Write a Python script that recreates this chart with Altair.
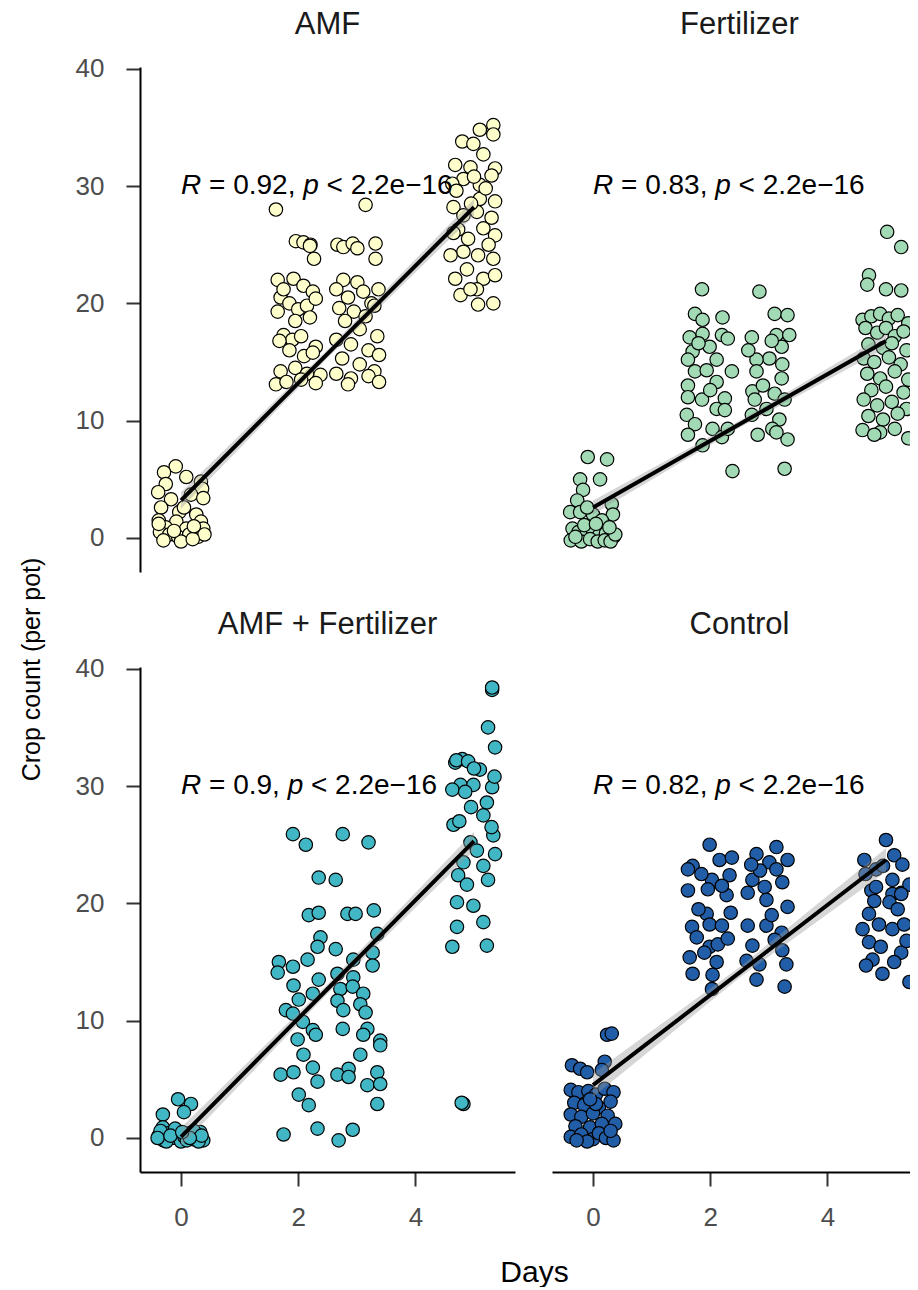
import altair as alt
import pandas as pd

FONT = "Liberation Sans"

# ---------------- data ----------------
panels = ["AMF", "Fertilizer", "AMF + Fertilizer", "Control"]
fills = ["#FFFFCC", "#A1DAB4", "#41B6C4", "#225EA8"]
r_values = ["0.92", "0.83", "0.9", "0.82"]
p_label = "< 2.2e\u221216"

# regression line (start at day 0, middle at 2.5, end at day 5) and ribbon half width
fit_x = [0, 2.5, 5]
fit_y = [[3.2, 15.7, 28.2], [2.6, 9.7, 16.8], [0.1, 12.7, 25.3], [4.5, 14.1, 23.7]]
band_half = [[0.7, 0.35, 0.7], [0.6, 0.3, 0.6], [0.8, 0.4, 0.8], [1.0, 0.45, 1.0]]

# jittered points (x = days with jitter, y = count)
amf_day0 = [(-0.09, 6.1), (-0.29, 5.6), (0.09, 5.2), (-0.26, 4.6), (0.34, 4.8), (0.36, 4.2), (-0.39, 3.9),
            (0.17, 3.7), (-0.17, 3.3), (0.38, 3.4), (-0.34, 2.6), (-0.03, 2.2), (0.26, 2.0), (-0.38, 1.5),
            (-0.08, 1.4), (0.34, 1.4), (-0.26, 0.9), (0.09, 0.8), (0.38, 0.8), (-0.36, 0.5), (-0.2, 0.3),
            (-0.05, 0.1), (0.14, 0.3), (0.29, 0.1), (0.4, 0.3), (-0.3, -0.2), (0.0, -0.3), (0.2, -0.1),
            (-0.12, 0.6), (0.22, 1.0), (-0.38, 1.2), (0.05, 2.6)]
amf_day2 = [(1.62, 28.0), (1.96, 25.3), (2.09, 25.2), (2.21, 25.0), (2.27, 23.8), (1.65, 22.0), (1.92, 22.1),
            (2.09, 21.5), (2.25, 21.0), (1.7, 20.5), (1.85, 20.0), (2.0, 19.5), (2.15, 19.8), (2.3, 20.4),
            (1.65, 19.3), (1.95, 18.5), (2.2, 18.8), (1.75, 17.3), (1.9, 16.9), (2.05, 17.2), (2.3, 16.3),
            (1.68, 16.8), (1.85, 16.0), (2.1, 15.5), (2.25, 15.8), (1.7, 14.2), (1.95, 14.5), (2.15, 14.0),
            (2.38, 13.9), (1.62, 13.1), (1.8, 13.3), (2.05, 13.5), (2.3, 13.2), (2.2, 24.9), (1.75, 21.2)]
amf_day3 = [(3.15, 28.4), (2.67, 25.0), (2.77, 24.8), (2.93, 25.1), (3.01, 24.7), (3.32, 25.1), (3.32, 23.8),
            (2.77, 22.0), (3.01, 21.8), (3.11, 21.0), (3.37, 21.2), (2.65, 21.2), (2.85, 20.5), (3.25, 20.0),
            (2.7, 19.6), (2.95, 19.3), (3.15, 18.9), (3.3, 19.8), (2.8, 18.5), (3.05, 17.8), (3.35, 17.2),
            (2.65, 16.9), (2.9, 16.5), (3.2, 16.0), (3.38, 15.6), (2.75, 15.3), (3.05, 14.8), (3.3, 14.2),
            (2.65, 14.0), (2.9, 13.6), (3.2, 13.8), (3.38, 13.3), (2.85, 13.1)]
amf_day5 = [(5.33, 35.2), (5.1, 34.8), (4.8, 33.8), (4.99, 33.6), (5.33, 34.4), (5.16, 32.7), (4.68, 31.8),
            (4.94, 31.6), (5.36, 31.5), (4.82, 30.6), (5.1, 30.1), (4.63, 30.2), (5.36, 28.7), (5.1, 28.9),
            (4.65, 28.2), (4.82, 27.5), (5.05, 27.8), (5.16, 26.4), (4.73, 26.3), (5.36, 25.8), (4.82, 24.4),
            (5.07, 24.1), (5.33, 23.8), (4.6, 24.1), (4.88, 22.9), (5.16, 22.1), (4.68, 22.1), (5.36, 22.4),
            (5.05, 21.2), (4.77, 20.7), (5.07, 19.9), (5.33, 20.0), (4.94, 21.2), (4.7, 29.6), (5.2, 29.8),
            (4.9, 25.5), (5.25, 25.0), (4.65, 26.0), (5.3, 27.3), (4.95, 28.5), (5.0, 30.8), (5.3, 30.9)]

fert_day0 = [(-0.09, 6.9), (0.24, 6.7), (-0.22, 5.0), (0.12, 5.0), (-0.17, 4.1), (-0.27, 3.2), (-0.39, 2.2),
             (-0.22, 2.2), (0.32, 2.9), (0.34, 2.0), (0.0, 2.0), (-0.1, 2.6), (0.15, 1.5), (-0.35, 0.8),
             (-0.25, 0.5), (-0.12, 0.3), (0.0, 0.6), (0.1, 0.2), (0.22, 0.4), (0.35, 0.1), (-0.38, -0.2),
             (-0.2, -0.3), (-0.05, -0.1), (0.08, -0.3), (0.2, -0.2), (0.3, -0.3), (0.38, 0.3), (-0.3, 0.1),
             (0.28, 0.9), (-0.15, 1.1), (0.05, 1.2)]
fert_day2 = [(1.86, 21.2), (1.74, 19.1), (1.87, 18.6), (2.21, 18.8), (1.65, 17.1), (1.87, 17.4), (2.2, 17.3),
             (1.7, 15.9), (1.99, 16.3), (2.11, 15.2), (1.62, 15.2), (1.74, 14.2), (2.37, 14.2), (1.94, 14.3),
             (2.11, 13.3), (1.62, 13.0), (1.62, 12.0), (1.86, 11.8), (2.25, 11.9), (2.11, 11.0), (2.25, 10.9),
             (1.6, 10.5), (1.74, 9.7), (2.04, 9.3), (1.62, 8.8), (1.87, 7.9), (2.2, 8.6), (2.3, 9.3),
             (2.38, 5.7), (2.0, 12.6), (1.8, 16.6), (2.3, 17.0)]
fert_day3 = [(2.84, 21.0), (3.1, 19.1), (3.32, 19.0), (2.71, 17.1), (3.13, 17.3), (3.35, 17.3), (3.22, 16.3),
             (3.01, 15.3), (2.79, 15.2), (3.23, 14.8), (2.79, 14.2), (3.22, 13.6), (2.72, 12.5), (3.1, 12.3),
             (3.27, 11.8), (2.76, 11.8), (2.96, 11.0), (3.18, 10.1), (2.71, 10.5), (3.06, 9.3), (2.81, 8.8),
             (3.32, 8.4), (3.13, 9.0), (3.27, 5.9), (2.9, 13.0), (3.05, 16.8), (2.65, 16.0)]
fert_day5 = [(5.02, 26.1), (5.26, 24.8), (4.71, 22.4), (4.68, 21.6), (5.0, 21.2), (5.26, 21.1), (4.6, 18.6),
             (4.75, 18.9), (4.9, 19.1), (5.05, 18.7), (5.2, 19.0), (5.38, 18.3), (4.65, 17.9), (4.85, 17.5),
             (5.0, 17.9), (5.15, 17.2), (5.3, 17.6), (4.7, 16.5), (4.95, 16.2), (5.1, 16.6), (5.35, 16.0),
             (4.62, 15.3), (4.8, 15.0), (5.05, 15.4), (5.25, 14.8), (4.68, 14.0), (4.9, 13.6), (5.15, 14.2),
             (5.38, 13.5), (4.75, 12.6), (5.0, 12.9), (5.3, 12.4), (4.62, 11.8), (4.85, 11.3), (5.1, 11.6),
             (5.35, 11.0), (4.7, 10.4), (4.95, 10.1), (5.2, 10.6), (4.6, 9.2), (4.9, 9.0), (5.15, 9.3),
             (5.38, 8.5), (4.8, 8.8)]

af_day0 = [(-0.05, 3.3), (0.17, 2.9), (0.05, 2.2), (-0.31, 2.0), (-0.31, 0.9), (-0.38, 0.2), (-0.3, -0.2),
           (-0.22, 0.4), (-0.15, 0.0), (-0.08, 0.3), (0.0, -0.3), (0.06, 0.1), (0.12, 0.4), (0.2, -0.1),
           (0.27, 0.2), (0.33, 0.5), (0.38, -0.2), (-0.35, 0.6), (-0.1, 0.8), (0.22, 0.6), (0.3, -0.3),
           (-0.25, -0.3), (0.1, -0.2), (-0.4, 0.0), (0.35, 0.2), (0.15, 0.0), (-0.18, 0.2), (0.02, 0.5)]
af_day2 = [(1.91, 25.9), (2.13, 25.0), (2.35, 22.2), (2.18, 19.0), (2.35, 19.2), (2.38, 17.1), (2.33, 16.3),
           (2.16, 15.2), (1.67, 15.0), (1.91, 14.6), (1.65, 14.1), (2.35, 13.5), (1.92, 13.0), (2.25, 12.3),
           (2.01, 11.8), (1.79, 10.9), (1.91, 10.6), (2.08, 9.9), (2.25, 9.2), (1.99, 8.4), (2.3, 8.8),
           (2.09, 7.1), (2.25, 6.0), (1.7, 5.4), (1.92, 5.6), (2.33, 4.8), (2.01, 3.7), (2.18, 2.8),
           (1.75, 0.3), (2.33, 0.8)]
af_day3 = [(2.76, 25.9), (3.2, 25.2), (2.64, 22.0), (2.84, 19.1), (2.98, 19.1), (3.29, 19.4), (3.35, 17.4),
           (2.64, 16.1), (3.27, 15.8), (3.27, 14.7), (2.94, 15.2), (2.67, 14.0), (2.94, 13.7), (2.72, 12.7),
           (2.93, 12.9), (3.11, 12.3), (2.67, 11.7), (3.06, 11.4), (2.77, 10.9), (3.15, 10.7), (2.76, 9.3),
           (3.18, 9.3), (3.11, 8.8), (3.4, 8.3), (3.4, 7.9), (3.06, 7.1), (2.86, 5.9), (2.67, 5.4),
           (2.86, 5.2), (3.18, 4.5), (3.35, 5.6), (3.4, 4.6), (3.35, 2.9), (2.93, 0.7), (2.69, -0.2)]
af_day5 = [(5.31, 38.2), (5.31, 38.4), (5.24, 35.0), (5.36, 33.3), (4.68, 32.0), (4.8, 32.3), (5.1, 31.4),
           (4.77, 30.1), (4.99, 30.1), (5.31, 29.9), (4.63, 29.7), (5.22, 28.6), (5.16, 27.5), (4.65, 26.7),
           (5.33, 25.8), (4.94, 25.2), (5.36, 24.2), (4.82, 23.5), (5.16, 23.2), (4.73, 22.4), (5.24, 22.0),
           (4.88, 21.6), (4.71, 20.1), (4.99, 19.8), (4.71, 18.0), (5.16, 18.4), (4.63, 16.3), (5.22, 16.4),
           (4.82, 2.9), (4.79, 3.0), (4.7, 32.2), (4.9, 32.1), (5.0, 31.5), (4.85, 29.5), (5.3, 26.5),
           (4.75, 27.0), (5.05, 24.5), (5.35, 30.8), (4.95, 28.2)]

ctl_day0 = [(0.24, 8.8), (0.32, 8.9), (-0.36, 6.2), (-0.22, 5.9), (0.2, 6.5), (-0.1, 5.6), (0.15, 5.8),
            (-0.38, 4.1), (-0.25, 3.9), (-0.08, 4.0), (0.05, 3.7), (0.2, 4.2), (0.35, 3.9), (-0.32, 3.0),
            (-0.15, 2.8), (0.1, 2.6), (0.3, 3.1), (-0.38, 2.0), (-0.2, 1.8), (0.0, 2.1), (0.25, 1.9),
            (0.38, 1.2), (-0.3, 1.0), (-0.05, 0.9), (0.15, 1.2), (-0.38, 0.1), (-0.2, 0.3), (0.0, -0.1),
            (0.1, 0.4), (0.22, 0.0), (0.35, -0.2), (-0.1, -0.3), (0.3, 0.6), (-0.28, -0.2), (0.05, 2.9),
            (-0.05, 3.3)]
ctl_day2 = [(1.99, 25.0), (2.16, 23.7), (2.37, 23.9), (1.7, 23.2), (1.62, 22.9), (2.03, 22.0), (2.33, 22.4),
            (1.62, 21.1), (1.96, 21.2), (2.28, 20.7), (1.94, 19.1), (1.69, 18.0), (1.99, 18.2), (2.2, 18.1),
            (1.77, 17.1), (1.99, 16.3), (2.13, 16.5), (1.65, 15.4), (2.11, 15.0), (1.7, 14.0), (2.04, 13.9),
            (2.03, 12.7), (1.85, 22.5), (2.2, 21.5), (1.8, 19.5), (2.35, 19.2), (1.9, 15.8), (2.3, 17.0)]
ctl_day3 = [(2.79, 24.2), (3.13, 24.8), (3.32, 23.7), (3.01, 23.5), (3.13, 22.9), (2.72, 22.0), (2.93, 21.4),
            (3.23, 21.8), (2.64, 20.9), (2.96, 20.3), (3.32, 19.7), (2.64, 18.1), (2.96, 18.1), (3.22, 17.5),
            (2.72, 16.4), (3.23, 16.0), (2.62, 15.1), (2.84, 14.8), (3.3, 14.8), (2.79, 13.5), (3.27, 12.9),
            (3.05, 19.0), (2.85, 22.8), (3.1, 16.9), (2.7, 23.3)]
ctl_day5 = [(5.0, 25.4), (4.63, 23.7), (5.14, 24.1), (5.28, 23.3), (4.83, 22.9), (5.11, 22.0), (4.75, 21.1),
            (5.26, 20.9), (5.4, 21.6), (4.83, 21.4), (5.11, 20.8), (5.26, 20.8), (5.06, 20.1), (4.71, 19.1),
            (4.88, 18.2), (4.6, 17.8), (5.11, 17.8), (5.31, 18.2), (4.71, 16.7), (4.91, 16.3), (5.26, 15.8),
            (4.77, 15.2), (5.14, 15.0), (4.66, 14.7), (4.94, 14.0), (5.4, 13.3), (4.65, 22.5), (4.95, 23.2),
            (5.2, 19.5), (4.8, 20.2), (5.35, 16.8)]

points_by_panel = [
    amf_day0 + amf_day2 + amf_day3 + amf_day5,
    fert_day0 + fert_day2 + fert_day3 + fert_day5,
    af_day0 + af_day2 + af_day3 + af_day5,
    ctl_day0 + ctl_day2 + ctl_day3 + ctl_day5,
]

y_ticks = [0, 10, 20, 30, 40]
x_ticks = [0, 2, 4]

# ---------------- layout / style ----------------
PX_PER_DAY = 375 / 6.4
LEFT_W = 375
RIGHT_W = 358
X_MIN = -0.7
PANEL_H = 505
Y_DOMAIN = [-2.9, 40.15]
ANN_FS = 28

ARIAL = {"R": 0.722, " ": 0.278, "=": 0.584, ".": 0.278, ",": 0.278, "p": 0.556, "<": 0.584,
         "e": 0.556, "\u2212": 0.584}
for d in "0123456789":
    ARIAL[d] = 0.556


def tw(s):
    return sum(ARIAL.get(c, 0.556) for c in s) * ANN_FS


def axis_common(label_pad):
    return dict(domainColor="black", domainWidth=2, tickColor="#333333", tickWidth=2, tickSize=14,
                labelFont=FONT, labelFontSize=26, labelColor="#4D4D4D", labelPadding=label_pad, grid=False,
                titleFont=FONT, titleFontWeight="normal", titleColor="black")


def make_panel(i, left, bottom):
    width = LEFT_W if left else RIGHT_W
    xmax = X_MIN + width / PX_PER_DAY
    xs = alt.Scale(domain=[X_MIN, xmax], nice=False, zero=False)
    ys = alt.Scale(domain=Y_DOMAIN, nice=False, zero=False)

    if bottom:
        if left:
            xaxis = alt.Axis(values=x_ticks, titleFontSize=30, titlePadding=27, titleX=394, **axis_common(18))
            xtitle = "Days"
        else:
            xaxis = alt.Axis(values=x_ticks, **axis_common(18))
            xtitle = None
    else:
        xaxis = None
        xtitle = None
    if left:
        if not bottom:
            yaxis = alt.Axis(values=y_ticks, titleFontSize=25, titlePadding=31, titleY=602, **axis_common(22))
            ytitle = "Crop count (per pot)"
        else:
            yaxis = alt.Axis(values=y_ticks, **axis_common(22))
            ytitle = None
    else:
        yaxis = None
        ytitle = None

    def X(field):
        return alt.X(field, type="quantitative", scale=xs, axis=xaxis, title=xtitle)

    def Y(field):
        return alt.Y(field, type="quantitative", scale=ys, axis=yaxis, title=ytitle)

    pts = points_by_panel[i]
    df_pts = pd.DataFrame({"x": [p[0] for p in pts], "y": [p[1] for p in pts]})
    pts_layer = alt.Chart(df_pts).mark_circle(
        size=180, fill=fills[i], stroke="black", strokeWidth=1.2, opacity=1, fillOpacity=1, clip=True
    ).encode(x=X("x"), y=Y("y"))

    df_band = pd.DataFrame({
        "x": fit_x,
        "lo": [fit_y[i][k] - band_half[i][k] for k in range(3)],
        "hi": [fit_y[i][k] + band_half[i][k] for k in range(3)],
    })
    band_layer = alt.Chart(df_band).mark_area(color="#999999", opacity=0.4).encode(
        x=X("x"), y=Y("lo"), y2="hi")

    df_line = pd.DataFrame({"x": fit_x, "y": fit_y[i]})
    line_layer = alt.Chart(df_line).mark_line(color="black", strokeWidth=4).encode(x=X("x"), y=Y("y"))

    r = r_values[i]
    segs = [
        ("R", "italic", 0.0),
        ("= " + r + ",", "normal", tw("R ")),
        ("p", "italic", tw("R = " + r + ", ")),
        (p_label, "normal", tw("R = " + r + ", p ")),
    ]
    df_txt = pd.DataFrame({"x": [0.0], "y": [30.0]})
    txt_layers = []
    for s, style, dx in segs:
        txt_layers.append(
            alt.Chart(df_txt).mark_text(
                text=s, align="left", baseline="middle", dx=dx, font=FONT, fontSize=ANN_FS,
                fontStyle=style, color="black"
            ).encode(x=X("x"), y=Y("y"))
        )

    title = alt.TitleParams(
        panels[i], font=FONT, fontSize=31, fontWeight="normal", color="#1A1A1A",
        anchor="middle", frame="group", offset=15 if left else 26,
        dx=0 if left else (375 - RIGHT_W) / 2,
    )
    return alt.layer(pts_layer, band_layer, line_layer, *txt_layers).properties(
        width=width, height=PANEL_H, title=title)


chart = alt.concat(
    make_panel(0, True, False), make_panel(1, False, False),
    make_panel(2, True, True), make_panel(3, False, True),
    columns=2, spacing={"row": 95, "column": 37}, bounds="flush",
).properties(
    padding={"left": 11, "top": 0, "right": 0, "bottom": 0},
    background="white",
).configure_view(stroke="transparent", strokeWidth=0)

chart.save("out.html", embed_options={"renderer": "svg", "actions": False})
